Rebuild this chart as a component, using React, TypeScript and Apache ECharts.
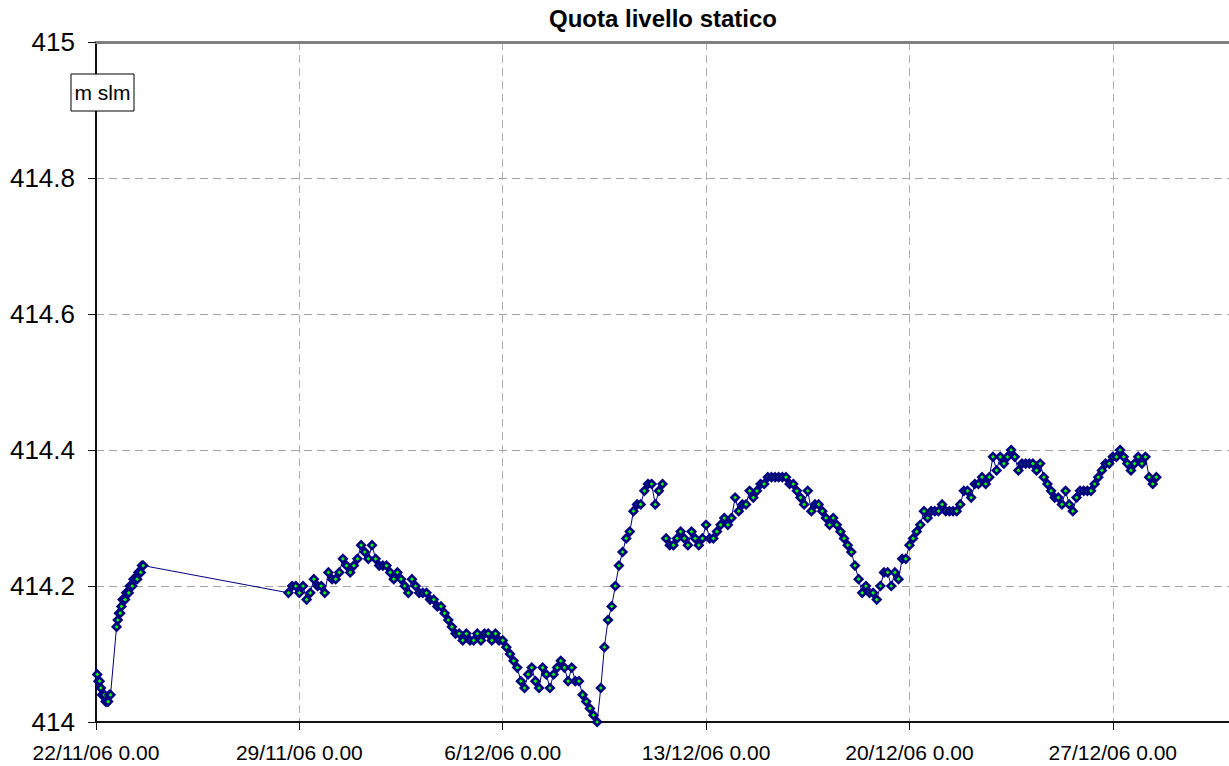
import React, { useEffect, useRef } from "react";
import * as echarts from "echarts";

// Hours counted from 22/11/06 0.00
const preHours = [-3.6, -3.1, -1.9];
const preLevels = [414.12, 414.1, 414.1];

const seg1Hours = [
  1, 2, 3, 4, 5, 6, 7, 8, 9, 10, 11, 12,
  17, 18, 19, 20, 21, 22, 23, 24, 25, 26, 27, 28, 29, 30, 31, 32, 33, 34, 35, 36, 37, 38, 39,
];
const seg1Levels = [
  414.07, 414.06, 414.06, 414.05, 414.04, 414.04, 414.04, 414.03, 414.03, 414.03, 414.04, 414.04,
  414.14, 414.15, 414.16, 414.16, 414.17, 414.18, 414.18, 414.18, 414.19, 414.19, 414.19, 414.2,
  414.2, 414.2, 414.21, 414.21, 414.21, 414.21, 414.22, 414.22, 414.22, 414.23, 414.23,
];

const readingStepHours = 3;

const seg2StartHour = 159;
const seg2Levels = [
  414.19, 414.2, 414.2, 414.19, 414.2, 414.18, 414.19, 414.21, 414.2, 414.2,
  414.19, 414.22, 414.21, 414.21, 414.22, 414.24, 414.23, 414.22, 414.23, 414.24,
  414.26, 414.25, 414.24, 414.26, 414.24, 414.23, 414.23, 414.23, 414.22, 414.21,
  414.22, 414.21, 414.2, 414.19, 414.21, 414.2, 414.19, 414.19, 414.19, 414.18,
  414.18, 414.17, 414.17, 414.16, 414.15, 414.14, 414.13, 414.13, 414.12, 414.13,
  414.12, 414.12, 414.13, 414.12, 414.13, 414.13, 414.12, 414.13, 414.12, 414.12,
  414.11, 414.1, 414.09, 414.08, 414.06, 414.05, 414.07, 414.08, 414.06, 414.05,
  414.08, 414.07, 414.05, 414.07, 414.08, 414.09, 414.08, 414.06, 414.08, 414.06,
  414.06, 414.04, 414.03, 414.02, 414.01, 414.0, 414.05, 414.11, 414.15, 414.17,
  414.2, 414.23, 414.25, 414.27, 414.28, 414.31, 414.32, 414.32, 414.34, 414.35,
  414.35, 414.32, 414.34, 414.35,
];

const seg3StartHour = 471;
const seg3Levels = [
  414.27, 414.26, 414.26, 414.27, 414.28, 414.27, 414.26, 414.28, 414.27, 414.26,
  414.27, 414.29, 414.27, 414.27, 414.28, 414.29, 414.3, 414.29, 414.3, 414.33,
  414.31, 414.32, 414.32, 414.34, 414.33, 414.34, 414.35, 414.35, 414.36, 414.36,
  414.36, 414.36, 414.36, 414.36, 414.35, 414.35, 414.34, 414.33, 414.32, 414.34,
  414.31, 414.32, 414.32, 414.31, 414.3, 414.29, 414.3, 414.29, 414.28, 414.27,
  414.26, 414.25, 414.23, 414.21, 414.19, 414.2, 414.19, 414.19, 414.18, 414.2,
  414.22, 414.22, 414.2, 414.22, 414.21, 414.24, 414.24, 414.26, 414.27, 414.28,
  414.29, 414.31, 414.3, 414.31, 414.31, 414.31, 414.32, 414.31, 414.31, 414.31,
  414.31, 414.32, 414.34, 414.34, 414.33, 414.35, 414.35, 414.36, 414.35, 414.36,
  414.39, 414.37, 414.39, 414.38, 414.39, 414.4, 414.39, 414.37, 414.38, 414.38,
  414.38, 414.38, 414.37, 414.38, 414.36, 414.35, 414.34, 414.33, 414.33, 414.32,
  414.34, 414.32, 414.31, 414.33, 414.34, 414.34, 414.34, 414.34, 414.35, 414.36,
  414.37, 414.38, 414.38, 414.39, 414.39, 414.4, 414.39, 414.38, 414.37, 414.38,
  414.39, 414.38, 414.39, 414.36, 414.35, 414.36,
];

const xMinHour = 0;
const xMaxHour = 936; // 31/12/06 0.00
const xTickHours = 168; // one week
const yMin = 414;
const yMax = 415;
const yTick = 0.2;

const titleText = "Quota livello statico";
const unitText = "m slm";

const FONT = '"Liberation Sans", Arial, sans-serif';

function hourLabel(h: number): string {
  if (h % xTickHours !== 0 || h >= xMaxHour) return "";
  const d = new Date(2006, 10, 22);
  d.setDate(d.getDate() + h / 24);
  const yy = String(d.getFullYear() % 100).padStart(2, "0");
  return `${d.getDate()}/${d.getMonth() + 1}/${yy} 0.00`;
}

export default function App() {
  const ref = useRef<HTMLDivElement>(null);
  useEffect(() => {
    if (!ref.current) return;
    const chart = echarts.init(ref.current, null, { renderer: "svg" });

    const pts: any[] = [];
    preHours.forEach((h, i) => pts.push({ value: [h, preLevels[i]], symbol: "none" }));
    seg1Hours.forEach((h, i) => pts.push([h, seg1Levels[i]]));
    seg2Levels.forEach((v, i) => pts.push([seg2StartHour + i * readingStepHours, v]));
    pts.push([seg2StartHour + seg2Levels.length * readingStepHours - 1, null]);
    seg3Levels.forEach((v, i) => pts.push([seg3StartHour + i * readingStepHours, v]));

    chart.setOption({
      animation: false,
      backgroundColor: "#fff",
      grid: {
        left: 96,
        right: 0,
        top: 42,
        bottom: 44,
        show: false,
      },
      xAxis: [
        {
          type: "value",
          min: xMinHour,
          max: xMaxHour,
          interval: xTickHours,
          axisLine: { show: true, lineStyle: { color: "#111", width: 2 } },
          axisTick: { show: true, inside: false, length: 8, lineStyle: { color: "#111", width: 1 } },
          axisLabel: {
            formatter: (v: number) => hourLabel(v),
            fontFamily: FONT,
            fontSize: 21,
            color: "#000",
            margin: 20,
            showMaxLabel: false,
          },
          splitLine: { show: true, lineStyle: { color: "#b0b0b0", width: 1, type: [8, 5] } },
        },
        {
          type: "value",
          position: "top",
          min: xMinHour,
          max: xMaxHour,
          axisLine: { show: true, lineStyle: { color: "#808080", width: 3 } },
          axisTick: { show: false },
          axisLabel: { show: false },
          splitLine: { show: false },
        },
      ],
      yAxis: {
        type: "value",
        min: yMin,
        max: yMax,
        interval: yTick,
        axisLine: { show: true, lineStyle: { color: "#111", width: 2 } },
        axisTick: { show: true, inside: false, length: 8, lineStyle: { color: "#111", width: 1 } },
        axisLabel: {
          formatter: (v: number) => String(parseFloat(v.toFixed(1))),
          fontFamily: FONT,
          fontSize: 26,
          color: "#000",
          margin: 21,
        },
        splitLine: { show: true, lineStyle: { color: "#a0a0a0", width: 1, type: [8, 5] } },
      },
      graphic: [
        {
          type: "text",
          x: 663,
          y: 6,
          z: 100,
          style: {
            text: titleText,
            fontFamily: FONT,
            fontSize: 24,
            fontWeight: "bold",
            fill: "#000",
            align: "center",
            verticalAlign: "top",
          },
        },
        {
          type: "group",
          z: 100,
          children: [
            {
              type: "rect",
              z: 100,
              shape: { x: 71, y: 74, width: 63, height: 37 },
              style: { fill: "#fff", stroke: "#000", lineWidth: 1 },
            },
            {
              type: "text",
              z: 101,
              x: 102.5,
              y: 92.5,
              style: {
                text: unitText,
                fontFamily: FONT,
                fontSize: 21,
                fill: "#000",
                align: "center",
                verticalAlign: "middle",
              },
            },
          ],
        },
      ],
      series: [
        {
          type: "line",
          xAxisIndex: 0,
          data: pts,
          clip: false,
          connectNulls: false,
          symbol: "diamond",
          symbolSize: 7.5,
          showAllSymbol: true,
          lineStyle: { color: "#000080", width: 1 },
          itemStyle: { color: "#00ff00", borderColor: "#000080", borderWidth: 2.6 },
          emphasis: { disabled: true },
        },
      ],
    });
    return () => chart.dispose();
  }, []);

  return (
    <div
      ref={ref}
      style={{ position: "absolute", left: 0, top: 0, width: 1229, height: 766 }}
    />
  );
}
